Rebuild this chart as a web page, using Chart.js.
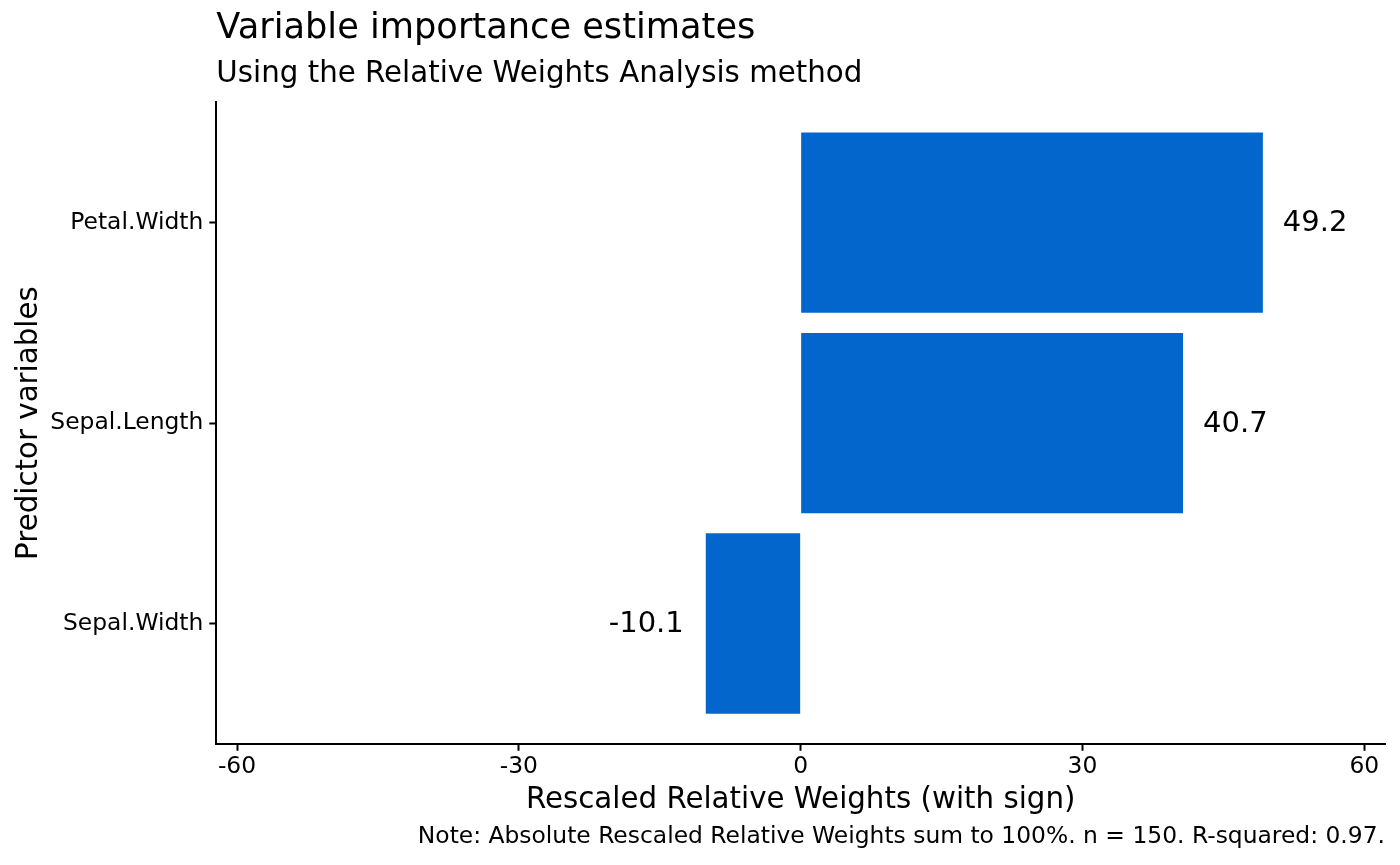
<!DOCTYPE html>
<html>
<head>
<meta charset="utf-8">
<script src="https://cdn.jsdelivr.net/npm/chart.js@4.4.1/dist/chart.umd.min.js"></script>
<style>
  html, body { margin: 0; padding: 0; background: #fff; }
  #wrap { width: 1400px; height: 865px; }
</style>
</head>
<body>
<div id="wrap"><canvas id="chart" width="1400" height="865"></canvas></div>
<script>
// data
const predictors = ['Petal.Width', 'Sepal.Length', 'Sepal.Width'];
const weights = [49.2, 40.7, -10.1];
const xTicks = [-60, -30, 0, 30, 60];

const FONT = "'DejaVu Sans', 'Liberation Sans', sans-serif";
const barColor = '#0366CC';

// value labels next to the end of each bar
const valueLabels = {
    id: 'valueLabels',
    afterDatasetsDraw(chart) {
        const ctx = chart.ctx;
        const meta = chart.getDatasetMeta(0);
        ctx.save();
        ctx.font = '29px ' + FONT;
        ctx.fillStyle = '#000';
        ctx.textBaseline = 'middle';
        meta.data.forEach((bar, i) => {
            const v = weights[i];
            if (v >= 0) {
                ctx.textAlign = 'left';
                ctx.fillText(v.toFixed(1), bar.x + 20, bar.y + 1);
            } else {
                ctx.textAlign = 'right';
                ctx.fillText(v.toFixed(1), bar.x - 22, bar.y + 1);
            }
        });
        ctx.restore();
    }
};

// caption under the plot, right aligned
const caption = {
    id: 'caption',
    afterDraw(chart) {
        const ctx = chart.ctx;
        ctx.save();
        ctx.font = '23.4px ' + FONT;
        ctx.fillStyle = '#000';
        ctx.textAlign = 'right';
        ctx.textBaseline = 'middle';
        ctx.fillText('Note: Absolute Rescaled Relative Weights sum to 100%. n = 150. R-squared: 0.97.',
            chart.chartArea.right, chart.height - 28);
        ctx.restore();
    }
};

new Chart(document.getElementById('chart'), {
    type: 'bar',
    data: {
        datasets: [{
            data: weights.map((w, i) => ({ x: w, y: i + 1 })),
            backgroundColor: barColor,
            borderWidth: 0,
            barPercentage: 0.9,
            categoryPercentage: 1.0
        }]
    },
    options: {
        indexAxis: 'y',
        responsive: false,
        animation: false,
        devicePixelRatio: 1,
        layout: {
            padding: { left: 10, right: 15, top: 0, bottom: 47 }
        },
        plugins: {
            legend: { display: false },
            tooltip: { enabled: false },
            title: {
                display: true,
                text: 'Variable importance estimates',
                align: 'start',
                fullSize: false,
                color: '#000',
                font: { family: FONT, size: 35.2, weight: 'normal' },
                padding: { top: 8, bottom: 7 }
            },
            subtitle: {
                display: true,
                text: 'Using the Relative Weights Analysis method',
                align: 'start',
                fullSize: false,
                color: '#000',
                font: { family: FONT, size: 29.3, weight: 'normal' },
                padding: { top: 0, bottom: 10 }
            }
        },
        scales: {
            x: {
                type: 'linear',
                min: -62.2,
                max: 62.2,
                afterBuildTicks(scale) {
                    scale.ticks = xTicks.map(v => ({ value: v }));
                },
                grid: {
                    drawOnChartArea: false,
                    drawTicks: true,
                    tickLength: 7,
                    tickWidth: 2,
                    color: '#000'
                },
                border: { display: true, color: '#000', width: 2 },
                ticks: {
                    color: '#000',
                    padding: 2,
                    maxRotation: 0,
                    font: { family: FONT, size: 23.4 }
                },
                title: {
                    display: true,
                    text: 'Rescaled Relative Weights (with sign)',
                    color: '#000',
                    font: { family: FONT, size: 29.3 },
                    padding: { top: 0, bottom: 0 }
                }
            },
            y: {
                type: 'linear',
                reverse: true,
                offset: false,
                min: 0.4,
                max: 3.6,
                afterBuildTicks(scale) {
                    scale.ticks = predictors.map((p, i) => ({ value: i + 1 }));
                },
                grid: {
                    offset: false,
                    drawOnChartArea: false,
                    drawTicks: true,
                    tickLength: 7,
                    tickWidth: 2,
                    color: '#000'
                },
                border: { display: true, color: '#000', width: 2 },
                ticks: {
                    color: '#000',
                    padding: 6,
                    font: { family: FONT, size: 23.4 },
                    callback: (v) => predictors[v - 1] || ''
                },
                title: {
                    display: true,
                    text: 'Predictor variables',
                    color: '#000',
                    font: { family: FONT, size: 29.3, lineHeight: 1 },
                    padding: { top: 5, bottom: 0 }
                }
            }
        }
    },
    plugins: [valueLabels, caption]
});
</script>
</body>
</html>
